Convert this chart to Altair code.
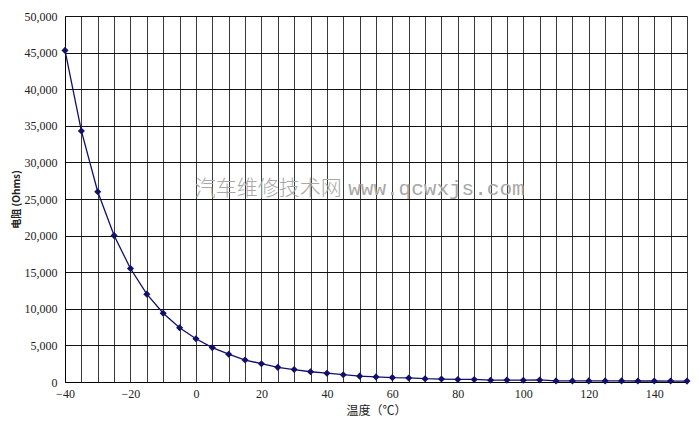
import altair as alt
import pandas as pd

temps = [-40, -35, -30, -25, -20, -15, -10, -5, 0, 5, 10, 15, 20, 25, 30, 35, 40, 45,
         50, 55, 60, 65, 70, 75, 80, 85, 90, 95, 100, 105, 110, 115, 120, 125, 130,
         135, 140, 145, 150]
ohms = [45300, 34300, 26000, 20000, 15500, 12000, 9400, 7400, 5900, 4700, 3800, 3000,
        2500, 2000, 1700, 1400, 1200, 1000, 800, 700, 600, 550, 450, 400, 350, 350,
        250, 260, 250, 280, 150, 150, 150, 150, 150, 140, 140, 130, 120]

x_grid = list(range(-40, 151, 5))
y_ticks = list(range(0, 50001, 5000))

wm_text = ["汽车维修技术网", "www.qcwxjs.com"]
wm_x = [44.5, 46.5]
wm_y = [26300, 26300]
wm_align = ["right", "left"]

df = pd.DataFrame({"t": temps, "r": ohms})
wm = pd.DataFrame({"text": wm_text, "x": wm_x, "y": wm_y, "align": wm_align})

xs = alt.Scale(domain=[-40, 150], nice=False, zero=False)
ys = alt.Scale(domain=[0, 50000], nice=False)

x_axis = alt.Axis(values=x_grid, title="温度（℃）",
                  labelExpr="datum.value % 20 == 0 ? format(datum.value, 'd') : ''",
                  labelFlush=False, labelOverlap=False,
                  grid=True, gridColor="#3a3a3a", gridOpacity=1, gridWidth=1,
                  ticks=False, domainColor="#000", labelFont="Liberation Serif",
                  labelFontSize=12, labelColor="#222", labelPadding=6,
                  titleFont="Noto Sans CJK SC", titleFontSize=12,
                  titleFontWeight="normal", titleColor="#222", titlePadding=6)
y_axis = alt.Axis(values=y_ticks, title="电阻 (Ohms)",
                  labelExpr="format(datum.value, ',')",
                  labelFlush=False, labelOverlap=False,
                  grid=True, gridColor="#111", gridOpacity=1, gridWidth=1,
                  ticks=False, domainColor="#000", labelFont="Liberation Serif",
                  labelFontSize=12, labelColor="#222", labelPadding=8,
                  titleFont="Noto Sans CJK SC", titleFontSize=10,
                  titleFontWeight="bold", titleColor="#222",
                  titleX=-49, titleBaseline="middle")

base = alt.Chart(df).encode(
    x=alt.X("t:Q", scale=xs, axis=x_axis),
    y=alt.Y("r:Q", scale=ys, axis=y_axis),
)
line = base.mark_line(color="#10106a", strokeWidth=1.3)
pts = base.mark_point(shape="diamond", filled=True, color="#10106a", size=50, opacity=1)

wm_r = alt.Chart(wm[wm["align"] == "right"]).mark_text(
    align="right", baseline="middle", font="Noto Sans CJK SC", fontSize=21,
    fontWeight=300, color="#a8a8a8").encode(
    x=alt.X("x:Q", scale=xs, axis=x_axis), y=alt.Y("y:Q", scale=ys, axis=y_axis),
    text="text:N")
wm_l = alt.Chart(wm[wm["align"] == "left"]).mark_text(
    align="left", baseline="middle", font="Liberation Mono", fontSize=21,
    color="#a8a8a8").encode(
    x=alt.X("x:Q", scale=xs, axis=x_axis), y=alt.Y("y:Q", scale=ys, axis=y_axis),
    text="text:N")

chart = alt.layer(line, pts, wm_r, wm_l).properties(
    width=622, height=366,
    autosize=alt.AutoSizeParams(type="none"),
    padding={"left": 57, "top": 8, "right": 4, "bottom": 35},
).configure_view(stroke="#888", strokeWidth=1).configure(background="white")

chart.save("out.html", embed_options={"renderer": "svg", "actions": False})
